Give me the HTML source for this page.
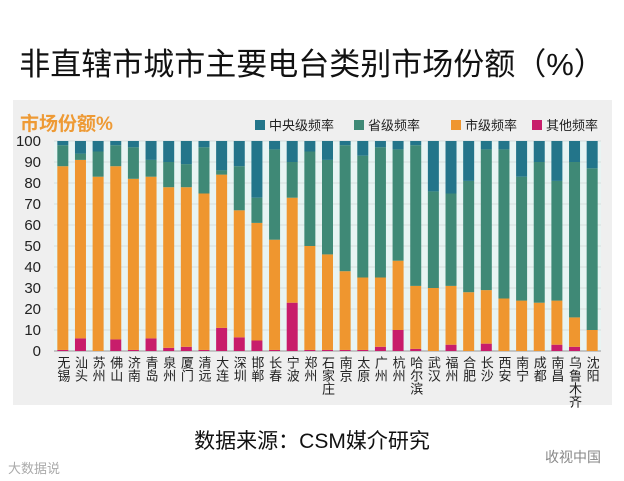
<!DOCTYPE html>
<html><head><meta charset="utf-8">
<style>
body{margin:0;width:624px;height:481px;background:#fff;font-family:"Liberation Sans","Noto Sans CJK SC",sans-serif;overflow:hidden;position:relative}
#title{position:absolute;left:0;top:39px;width:624px;text-align:center;font-size:31px;color:#111}
#panel{position:absolute;left:13px;top:100px;width:599px;height:305px;background:#efefef}
#src{position:absolute;left:0;top:425px;width:624px;text-align:center;font-size:21px;color:#111}
.wm{position:absolute;font-size:13px;color:#aaa}
</style></head><body>
<div id="title">非直辖市城市主要电台类别市场份额（%）</div>
<div id="panel"></div>
<svg id="chart" width="624" height="481" style="position:absolute;left:0;top:0"></svg>
<div id="src">数据来源：CSM媒介研究</div>
<div class="wm" style="left:8px;top:458px">大数据说</div>
<div class="wm" style="left:545px;top:447px;font-size:14px;color:#888">收视中国</div>
<script>
const cities=["无锡","汕头","苏州","佛山","济南","青岛","泉州","厦门","清远","大连","深圳","邯郸","长春","宁波","郑州","石家庄","南京","太原","广州","杭州","哈尔滨","武汉","福州","合肥","长沙","西安","南宁","成都","南昌","乌鲁木齐","沈阳"];
const other=[0.5,6,0,5.5,0.5,6,1.5,2,0.5,11,6.5,5,0.5,23,0.5,0.5,0.5,0.5,2,10,1,0,3,0,3.5,0,0,0,3,2,0];
const cityShare=[87.5,85,83,82.5,81.5,77,76.5,76,74.5,73,60.5,56,52.5,50,49.5,45.5,37.5,34.5,33,33,30,30,28,28,25.5,25,24,23,21,14,10];
const provShare=[10,3,12,10,15,8,12,11,22,2,21,12,43,17,45,45,60,58,62,53,67,46,44,53,67,71,59,67,57,74,77];
const centralShare=other.map((o,i)=>100-o-cityShare[i]-provShare[i]);
const yTicks=[0,10,20,30,40,50,60,70,80,90,100];
const series=[{name:"中央级频率",color:"#23758a"},{name:"省级频率",color:"#3f8976"},{name:"市级频率",color:"#ef962f"},{name:"其他频率",color:"#c81d6b"}];
const NS="http://www.w3.org/2000/svg";
const svg=document.getElementById('chart');
const x0=54,x1=601,y0=351,yTop=141;
const y=v=>y0-(y0-yTop)*v/100;
const step=(x1-x0)/cities.length;
const xc=i=>x0+step*(i+0.5);
function mk(t,a){const e=document.createElementNS(NS,t);for(const k in a)e.setAttribute(k,a[k]);svg.appendChild(e);return e;}
let bg=mk('rect',{x:x0,y:yTop,width:x1-x0,height:y0-yTop,fill:'#e8f4f3'});


yTicks.forEach(t=>{
  let g=mk('line',{x1:x0,x2:x1,y1:y(t),y2:y(t),stroke:'#d6dede','stroke-width':1});
  
  
  let l=mk('text',{x:41,y:y(t)+5,'text-anchor':'end','font-size':15,fill:'#222'});
  l.textContent=t;
  
  
});
let ax=mk('line',{x1:x0,x2:x1,y1:y0,y2:y0,stroke:'#999','stroke-width':1});


const bw=11;
cities.forEach((c,i)=>{
  const segs=[[0,other[i],3],[other[i],other[i]+cityShare[i],2],[other[i]+cityShare[i],other[i]+cityShare[i]+provShare[i],1],[other[i]+cityShare[i]+provShare[i],100,0]];
  segs.forEach(s=>{
    if(s[1]-s[0]<=0)return;
    let r=mk('rect',{x:xc(i)-bw/2,y:y(s[1]),width:bw,height:y(s[0])-y(s[1]),fill:series[s[2]].color});
    
    
  });
  let t=mk('text',{x:xc(i),y:356,'font-size':13,fill:'#222','writing-mode':'tb','glyph-orientation-vertical':0,'text-anchor':'start'});
  t.textContent=c;
  
  
});
let ct=mk('text',{x:20,y:130,'font-size':19,'font-weight':'bold',fill:'#ee9a35'});
ct.textContent='市场份额%';


const lx=[255,354,451,532];
series.forEach((s,k)=>{
  let r=mk('rect',{x:lx[k],y:120,width:10,height:10,fill:s.color});
  
  
  let t=mk('text',{x:lx[k]+14,y:130,'font-size':13,fill:'#222'});
  t.textContent=s.name;
  
  
});
</script>
</body></html>
